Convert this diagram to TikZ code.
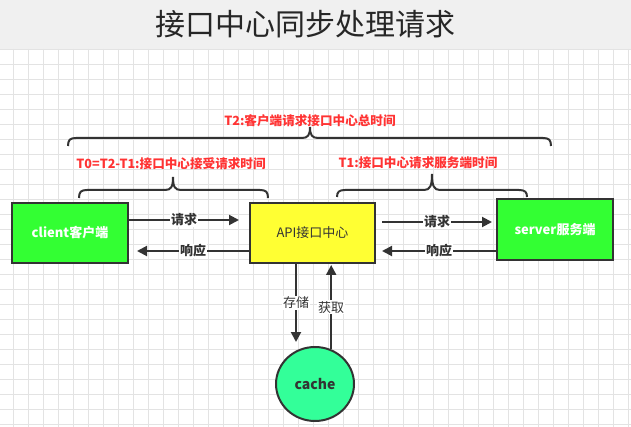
\documentclass[tikz,border=0pt]{standalone}
\usepackage{fontspec}
\setmainfont{Noto Sans CJK SC}
\usetikzlibrary{arrows.meta,shapes.geometric}
\definecolor{titlebg}{HTML}{F0F0F0}
\definecolor{gridc}{HTML}{E3E3E3}
\definecolor{edge}{HTML}{333333}
\definecolor{bgreen}{HTML}{33FF33}
\definecolor{byellow}{HTML}{FFFF33}
\definecolor{cgreen}{HTML}{33FF99}
\definecolor{lred}{HTML}{FF3333}
\tikzset{
  box/.style={draw=edge, line width=2pt, rectangle, inner sep=0pt},
  arr/.style={draw=edge, line width=2pt, -{Triangle[length=10pt,width=10pt]}},
  lab/.style={fill=white, inner sep=1pt, text=edge, font=\fontsize{13}{15}\selectfont\bfseries},
  vlab/.style={fill=white, inner sep=1pt, text=edge, font=\fontsize{13}{15}\selectfont},
  redlab/.style={text=lred, inner sep=0pt, font=\fontsize{12.6}{14}\selectfont\bfseries},
  bracepath/.style={draw=edge, line width=2pt}
}
\begin{document}
\begin{tikzpicture}[x=1pt,y=-1pt]
\useasboundingbox (0,0) rectangle (631,427);
\fill[white] (0,0) rectangle (631,427);
\fill[titlebg] (0,0) rectangle (631,49);
\foreach \x in {13.3,28.3,...,631} \draw[gridc, line width=0.8pt] (\x,49) -- (\x,427);
\foreach \y in {49.3,64.3,...,427} \draw[gridc, line width=0.8pt] (0,\y) -- (631,\y);
\node[text=black!85, font=\fontsize{30}{34}\selectfont] (title) at (305,24) {接口中心同步处理请求};

% braces
\draw[bracepath] (68,146) .. controls (68,140) and (70,138) .. (76,138) -- (302,138)
  .. controls (308,138) and (310,135) .. (310,127) .. controls (310,135) and (312,138) .. (318,138)
  -- (543,138) .. controls (549,138) and (551,140) .. (551,146);
\draw[bracepath] (79,198) .. controls (79,192) and (81,190) .. (87,190) -- (165,190)
  .. controls (171,190) and (173,187) .. (173,177) .. controls (173,187) and (175,190) .. (181,190)
  -- (260,190) .. controls (266,190) and (268,192) .. (268,198);
\draw[bracepath] (337,197) .. controls (337,192) and (339,190) .. (345,190) -- (424,190)
  .. controls (430,190) and (432,186) .. (432,174) .. controls (432,186) and (434,190) .. (440,190)
  -- (519,190) .. controls (525,190) and (527,192) .. (527,197);

\node[redlab] (t2) at (310,121) {T2:客户端请求接口中心总时间};
\node[redlab] (t0) at (171,164) {T0=T2-T1:接口中心接受请求时间};
\node[redlab] (t1) at (418,163) {T1:接口中心请求服务端时间};

% nodes
\node[box, fill=bgreen, minimum width=116pt, minimum height=60pt, text=white,
  font=\fontsize{13}{15}\selectfont\bfseries] (client) at (70,233) {client客户端};
\node[box, fill=byellow, minimum width=125pt, minimum height=60pt, text=edge,
  font=\fontsize{13}{15}\selectfont] (api) at (312.5,233) {API接口中心};
\node[box, fill=bgreen, minimum width=116pt, minimum height=61pt, text=white,
  font=\fontsize{13}{15}\selectfont\bfseries] (server) at (555,229.5) {server服务端};
\node[ellipse, draw=edge, line width=2pt, fill=cgreen, minimum width=78pt, minimum height=74pt,
  inner sep=0pt, text=edge, font=\fontsize{14}{16}\selectfont\bfseries] (cache) at (315,384) {cache};

% connectors
\draw[arr] ([yshift=13pt]client.east) -- node[lab] {请求} ([xshift=-10pt,yshift=13pt]api.west);
\draw[arr] ([yshift=-18pt]api.west) -- node[lab] {响应} ([xshift=8pt,yshift=-18pt]client.east);
\draw[arr] ([xshift=6pt,yshift=11pt]api.east) -- node[lab] {请求} ([xshift=-4pt,yshift=7.5pt]server.west);
\draw[arr] ([yshift=-21.5pt]server.west) -- node[lab] {响应} ([xshift=6pt,yshift=-18pt]api.east);
\draw[arr] ([xshift=-16.5pt]api.south) -- node[vlab] {存储} ([xshift=-19pt,yshift=4pt]cache.north);
\draw[arr] (cache.65) -- node[vlab] {获取} ([yshift=-1pt]api.south -| cache.65);
\end{tikzpicture}
\end{document}
